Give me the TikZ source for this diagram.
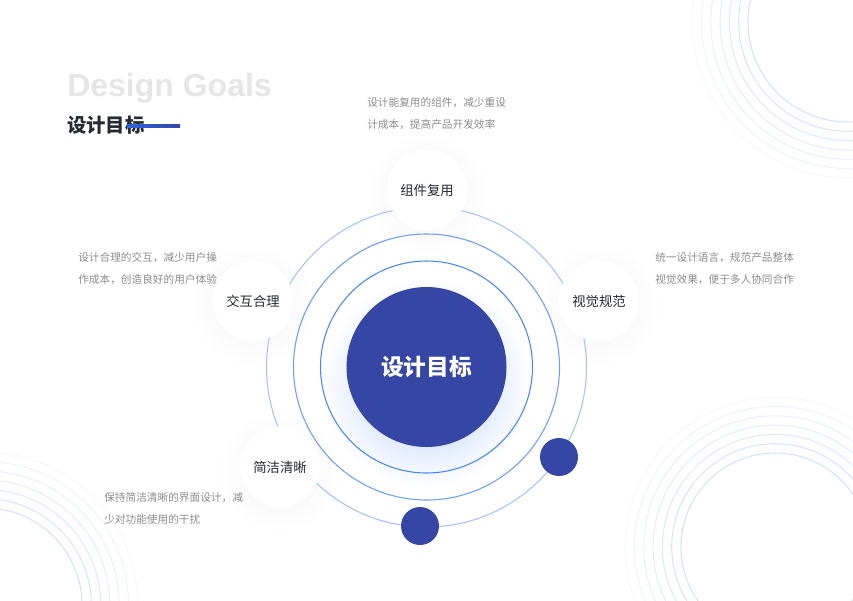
\documentclass[tikz,border=0pt]{standalone}
\usepackage{fontspec}
\setmainfont{Noto Sans CJK SC}
\newfontfamily\latinfont{Liberation Sans}
\usepackage{xcolor}
\definecolor{GoalBlue}{HTML}{3546A5}
\definecolor{RingBlue}{HTML}{4A86F0}
\definecolor{LineBlue}{HTML}{2F63E0}
\definecolor{TextGray}{HTML}{8C8C8C}
\definecolor{TextDark}{HTML}{262A33}
\definecolor{PaleBlue}{HTML}{C6DAFB}
\definecolor{GhostGray}{HTML}{E6E6E8}
\usetikzlibrary{calc, positioning, fadings}
\tikzfading[name=softglow, inner color=transparent!0, outer color=transparent!100]

\begin{document}
\begin{tikzpicture}[
    x=0.75pt, y=-0.75pt,
    core/.style={circle, fill=GoalBlue, minimum size=120pt, inner sep=0pt, text=white, font=\fontsize{17pt}{20pt}\selectfont\bfseries},
    goal/.style={circle, fill=white, minimum size=60pt, inner sep=0pt, text=TextDark, font=\fontsize{10pt}{12pt}\selectfont},
    small_dot/.style={circle, fill=GoalBlue, minimum size=28.5pt, inner sep=0pt},
    desc/.style={anchor=base west, align=left, inner sep=0pt, text=TextGray, font=\fontsize{8pt}{16.5pt}\selectfont},
    halo/.style={black!5, path fading=softglow},
    deco_ring/.style={PaleBlue, line width=0.8pt},
    ring_in/.style={RingBlue, line width=0.8pt},
    ring_mid/.style={RingBlue!80, line width=0.8pt},
    ring_out/.style={RingBlue!50, line width=0.8pt}
]
    \useasboundingbox (0,0) rectangle (853,600);

    % 1. BACKGROUND RINGS (corners)
    \foreach \i [evaluate=\i as \op using 0.8-0.1*\i, evaluate=\i as \rr using 100+9.3*\i] in {0,...,6} {
        \draw[deco_ring, draw opacity=\op] (848,22) circle (\rr);
    }
    \foreach \i [evaluate=\i as \op using 0.8-0.1*\i, evaluate=\i as \rr using 94+9.3*\i] in {0,...,6} {
        \draw[deco_ring, draw opacity=\op] (775,547) circle (\rr);
    }
    \foreach \i [evaluate=\i as \op using 0.8-0.1*\i, evaluate=\i as \rr using 97+9.3*\i] in {0,...,6} {
        \draw[deco_ring, draw opacity=\op] (-15,605) circle (\rr);
    }

    % 2. TITLE
    \node[anchor=base west, inner sep=0pt, text=GhostGray, font=\latinfont\fontsize{24pt}{27pt}\selectfont\bfseries] (title) at (67,96) {Design Goals};
    \node[anchor=base west, inner sep=0pt, text=TextDark, font=\fontsize{14.5pt}{17pt}\selectfont\bfseries] (subtitle) at (67,132.5) {设计目标};
    \shade[left color=LineBlue, right color=GoalBlue] (127,124.5) rectangle (180,127);

    % 3. GLOW AND HALOS
    \coordinate (c) at (426.5,367);
    \fill[RingBlue!42, path fading=softglow] ($(c)+(0,16)$) circle (105);
    \foreach \p in {(427,190), (253,301), (599,301), (280,467)} {
        \fill[halo] \p ++(0,4) circle (62);
    }

    % 4. ORBIT RINGS
    \draw[ring_in] (c) circle (106);
    \draw[ring_mid] (c) circle (133);
    \draw[ring_out] (c) circle (160);

    % 5. THE CORE
    \node[core] (core) at (c) {设计目标};

    % 6. GOAL NODES
    \node[goal] (reuse) at (427,190) {组件复用};
    \node[goal] (interact) at (253,301) {交互合理};
    \node[goal] (visual) at (599,301) {视觉规范};
    \node[goal] (simple) at (280,467) {简洁清晰};
    \node[small_dot] (dotA) at (559,457) {};
    \node[small_dot] (dotB) at (420,526) {};

    % 7. DESCRIPTIONS
    \node[desc] (reuseText) at (367,128) {设计能复用的组件，减少重设\\计成本，提高产品开发效率};
    \node[desc] (interactText) at (78,283) {设计合理的交互，减少用户操\\作成本，创造良好的用户体验};
    \node[desc] (visualText) at (655,283) {统一设计语言，规范产品整体\\视觉效果，便于多人协同合作};
    \node[desc] (simpleText) at (104,523) {保持简洁清晰的界面设计，减\\少对功能使用的干扰};

\end{tikzpicture}
\end{document}
